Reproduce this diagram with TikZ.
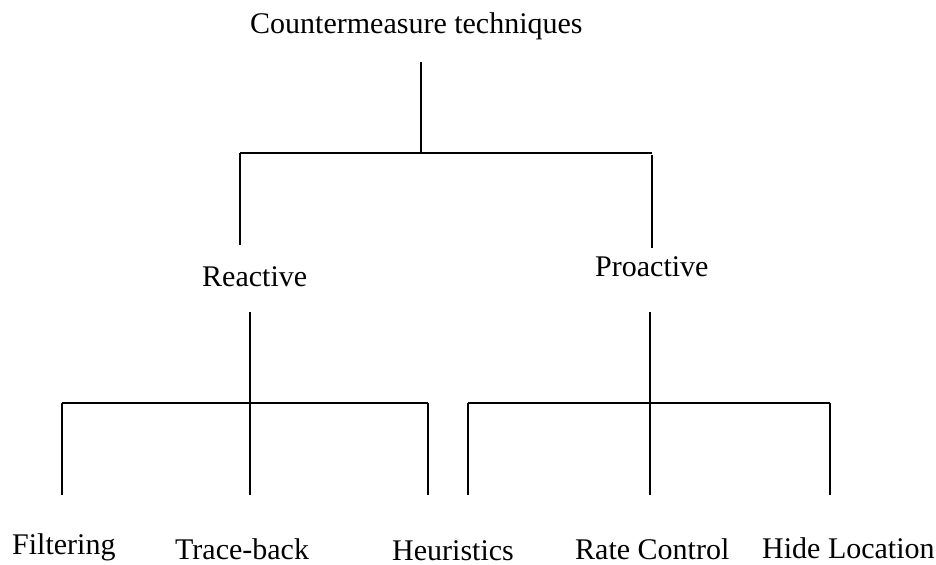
\documentclass[tikz,border=0pt]{standalone}
\usepackage{fontspec}
\setmainfont{Liberation Serif}
\begin{document}
\begin{tikzpicture}[x=1bp,y=-1bp,
  lbl/.style={anchor=base west,inner sep=0pt,text depth=0pt,font=\fontsize{30bp}{36bp}\selectfont},
  link/.style={line width=1.8bp,line cap=butt,line join=miter}]
\useasboundingbox (0,0) rectangle (936,565);
\fill[white] (0,0) rectangle (936,565);

% labels
\node[lbl] (root) at (250,34) {Countermeasure techniques};
\node[lbl] (rea) at (202,286) {Reactive};
\node[lbl] (pro) at (595,277) {Proactive};
\node[lbl] (fil) at (12,554) {Filtering};
\node[lbl] (trb) at (175,559) {Trace-back};
\node[lbl] (heu) at (392,560) {Heuristics};
\node[lbl] (rat) at (575,559) {Rate Control};
\node[lbl] (hid) at (762,558) {Hide Location};

% first level
\coordinate (rootS) at (421,62);
\coordinate (rootJ) at (421,153);
\coordinate (barL) at (240,153);
\coordinate (barR) at (652,153);
\coordinate (reaIn) at (240,245);
\coordinate (proFrom) at (652,155);
\coordinate (proIn) at (652,248);
\draw[link] (rootS) -- (rootJ);
\draw[link] (barL) -- (barR);
\draw[link] (barL) -- (reaIn);
\draw[link] (proFrom) -- (proIn);

% reactive branch
\coordinate (reaS) at (250,312);
\coordinate (reaJ) at (250,403);
\coordinate (rbL) at (62,403);
\coordinate (rbR) at (428,403);
\coordinate (filIn) at (62,495);
\coordinate (trbIn) at (250,495);
\coordinate (heuIn) at (428,495);
\draw[link] (reaS) -- (trbIn);
\draw[link] (rbL) -- (rbR);
\draw[link] (rbL) -- (filIn);
\draw[link] (rbR) -- (heuIn);

% proactive branch
\coordinate (proS) at (650,312);
\coordinate (proJ) at (650,403);
\coordinate (pbL) at (468,403);
\coordinate (pbR) at (830,403);
\coordinate (heu2In) at (468,495);
\coordinate (ratIn) at (650,495);
\coordinate (hidIn) at (830,495);
\draw[link] (proS) -- (ratIn);
\draw[link] (pbL) -- (pbR);
\draw[link] (pbL) -- (heu2In);
\draw[link] (pbR) -- (hidIn);
\end{tikzpicture}
\end{document}
